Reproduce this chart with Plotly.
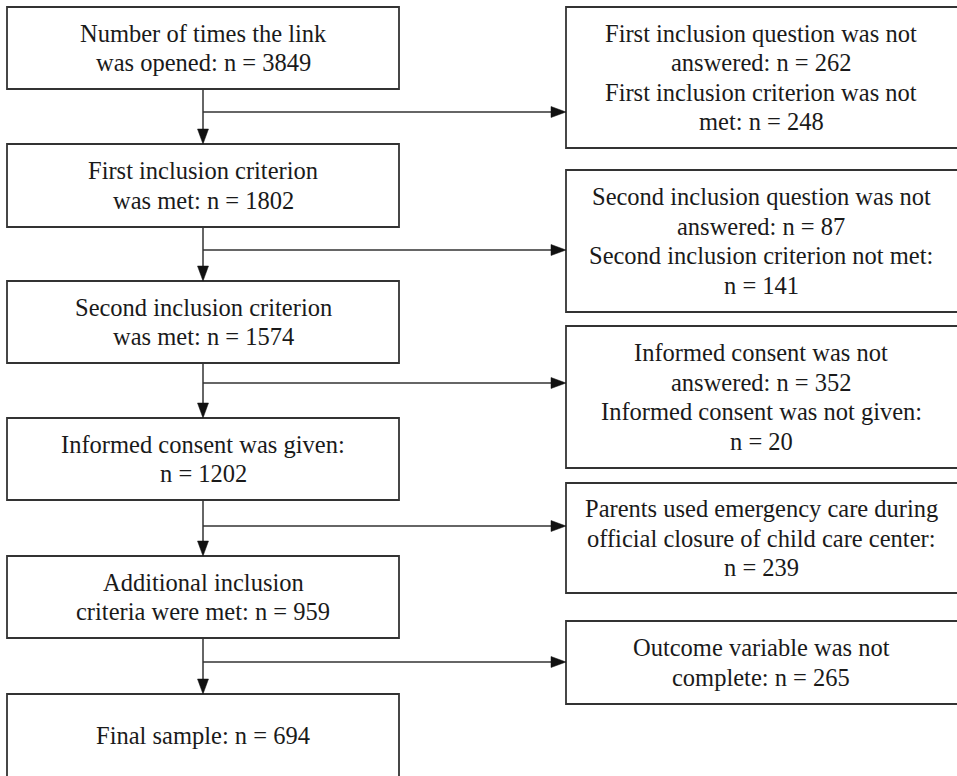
import plotly.graph_objects as go

# ---- data ----
left_templates = [
    "Number of times the link<br>was opened: n = {}",
    "First inclusion criterion<br>was met: n = {}",
    "Second inclusion criterion<br>was met: n = {}",
    "Informed consent was given:<br>n = {}",
    "Additional inclusion<br>criteria were met: n = {}",
    "Final sample: n = {}",
]
left_n = [3849, 1802, 1574, 1202, 959, 694]

right_templates = [
    "First inclusion question was not<br>answered: n = {}<br>First inclusion criterion was not<br>met: n = {}",
    "Second inclusion question was not<br>answered: n = {}<br>Second inclusion criterion not met:<br>n = {}",
    "Informed consent was not<br>answered: n = {}<br>Informed consent was not given:<br>n = {}",
    "Parents used emergency care during<br>official closure of child care center:<br>n = {}",
    "Outcome variable was not<br>complete: n = {}",
]
right_n = [[262, 248], [87, 141], [352, 20], [239], [265]]

# ---- layout geometry (pixels) ----
W, H = 957, 776
LX0, LX1 = 7, 399
left_boxes = [(7, 89), (144, 227), (281, 363), (418, 500), (556, 638), (694, 777)]
RX0, RX1 = 566, 958
right_boxes = [(7, 148), (170, 312), (326, 468), (483, 593), (621, 704)]
branch_y = [112, 250, 383, 526, 662]
CX = 203

LINE = "#333333"
HEAD = "#111111"
TXT = "#1a1a1a"
FONT = dict(family="Liberation Serif, Times New Roman, serif", size=24.5, color=TXT)
LSP = 29.5
AH_L, AH_W = 15, 5.5

fig = go.Figure()
fig.add_trace(go.Scatter(x=[0, W], y=[0, H], mode="markers",
                         marker=dict(opacity=0), hoverinfo="skip", showlegend=False))

shapes = []
annotations = []


def add_text(cx, cy, text):
    lines = text.split("<br>")
    m = len(lines)
    for k, ln in enumerate(lines):
        annotations.append(dict(x=cx, y=cy + (k - (m - 1) / 2) * LSP, text=ln,
                                showarrow=False, font=FONT, xanchor="center",
                                yanchor="middle"))


for (tpl, n), (y0, y1) in zip(zip(left_templates, left_n), left_boxes):
    shapes.append(dict(type="rect", x0=LX0, x1=LX1, y0=y0, y1=y1,
                       line=dict(color=LINE, width=1.8), fillcolor="white", layer="below"))
    add_text(CX, (y0 + y1) / 2, tpl.format(n))

for (tpl, ns), (y0, y1) in zip(zip(right_templates, right_n), right_boxes):
    shapes.append(dict(type="rect", x0=RX0, x1=RX1, y0=y0, y1=y1,
                       line=dict(color=LINE, width=1.8), fillcolor="white", layer="below"))
    add_text((RX0 + 956) / 2, (y0 + y1) / 2, tpl.format(*ns))

# connectors
for i in range(len(left_boxes) - 1):
    yb = left_boxes[i][1]
    yt = left_boxes[i + 1][0]
    shapes.append(dict(type="line", x0=CX, x1=CX, y0=yb, y1=yt - AH_L + 1,
                       line=dict(color=LINE, width=1.5)))
    shapes.append(dict(type="path",
                       path=f"M {CX-AH_W} {yt-AH_L} L {CX+AH_W} {yt-AH_L} L {CX} {yt} Z",
                       fillcolor=HEAD, line=dict(color=HEAD, width=0.5)))
    by = branch_y[i]
    shapes.append(dict(type="line", x0=CX, x1=RX0 - AH_L + 1, y0=by, y1=by,
                       line=dict(color=LINE, width=1.5)))
    shapes.append(dict(type="path",
                       path=f"M {RX0-AH_L} {by-AH_W} L {RX0-AH_L} {by+AH_W} L {RX0} {by} Z",
                       fillcolor=HEAD, line=dict(color=HEAD, width=0.5)))

fig.update_layout(
    width=W, height=H,
    margin=dict(l=0, r=0, t=0, b=0),
    paper_bgcolor="white", plot_bgcolor="white",
    xaxis=dict(range=[0, W], visible=False, fixedrange=True),
    yaxis=dict(range=[H, 0], visible=False, fixedrange=True),
    shapes=shapes, annotations=annotations, showlegend=False,
)

fig.write_html(
    "out.html",
    config=dict(displayModeBar=False),
    post_script="document.body.style.margin='0';document.body.style.overflow='hidden';",
)
